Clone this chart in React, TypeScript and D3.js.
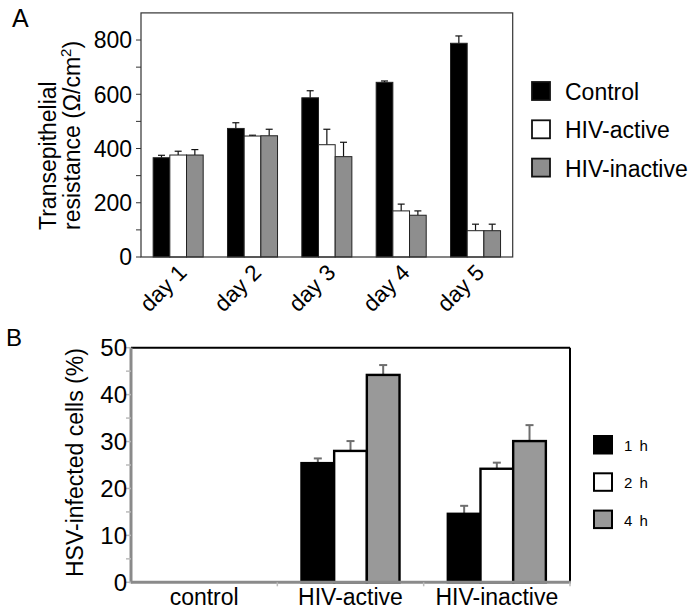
import { useRef, useEffect } from 'react';
import * as d3 from 'd3';

// Panel A data
const days = ['day 1', 'day 2', 'day 3', 'day 4', 'day 5'];
const seriesA = ['Control', 'HIV-active', 'HIV-inactive'];
const controlMean = [366, 474, 587, 644, 788];
const controlErr = [9, 21, 26, 5, 27];
const activeMean = [376, 446, 414, 170, 97];
const activeErr = [14, 3, 57, 25, 24];
const inactiveMean = [376, 447, 370, 154, 97];
const inactiveErr = [20, 24, 53, 16, 24];
const ticksA = [0, 200, 400, 600, 800];

// Panel B data
const groupsB = ['control', 'HIV-active', 'HIV-inactive'];
const seriesB = ['1 h', '2 h', '4 h'];
const h1Mean = [0, 25.4, 14.6];
const h1Err = [0, 1.0, 1.7];
const h2Mean = [0, 28.0, 24.2];
const h2Err = [0, 2.1, 1.3];
const h4Mean = [0, 44.2, 30.1];
const h4Err = [0, 2.1, 3.4];
const ticksB = [0, 10, 20, 30, 40, 50];

const FONT = "'Liberation Sans', Arial, Helvetica, sans-serif";

export default function App() {
  const svgRef = useRef(null);

  useEffect(() => {
    const svg = d3.select(svgRef.current);
    svg.selectAll('*').remove();
    svg.attr('font-family', FONT);

    // ---------- Panel A ----------
    const a = { left: 141, right: 512.7, top: 12.9, bottom: 257 };
    const yA = d3.scaleLinear().domain([0, 900]).range([a.bottom, a.top]);
    const xA = d3.scaleBand().domain(days).range([a.left, a.right]).paddingInner(0.327).paddingOuter(0.1635);
    const subA = d3.scaleBand().domain(seriesA).range([0, xA.bandwidth()]);
    const fillA = { Control: '#000', 'HIV-active': '#fff', 'HIV-inactive': '#8e8e8e' };
    const rowsA = days.flatMap((d, i) => [
      { day: d, s: 'Control', v: controlMean[i], e: controlErr[i] },
      { day: d, s: 'HIV-active', v: activeMean[i], e: activeErr[i] },
      { day: d, s: 'HIV-inactive', v: inactiveMean[i], e: inactiveErr[i] },
    ]);

    const gA = svg.append('g');
    // error bars (behind bars)
    gA.selectAll('.errA').data(rowsA).enter().append('g').each(function (d) {
      const cx = xA(d.day) + subA(d.s) + subA.bandwidth() / 2;
      const g = d3.select(this);
      g.append('line').attr('x1', cx).attr('x2', cx).attr('y1', yA(d.v)).attr('y2', yA(d.v + d.e))
        .attr('stroke', '#111').attr('stroke-width', 1.2);
      g.append('line').attr('x1', cx - 3.5).attr('x2', cx + 3.5).attr('y1', yA(d.v + d.e)).attr('y2', yA(d.v + d.e))
        .attr('stroke', '#111').attr('stroke-width', 1.2);
    });
    gA.selectAll('.barA').data(rowsA).enter().append('rect')
      .attr('x', (d) => xA(d.day) + subA(d.s))
      .attr('y', (d) => yA(d.v))
      .attr('width', subA.bandwidth())
      .attr('height', (d) => yA(0) - yA(d.v))
      .attr('fill', (d) => fillA[d.s])
      .attr('stroke', '#222')
      .attr('stroke-width', 1);

    gA.append('rect').attr('x', a.left).attr('y', a.top).attr('width', a.right - a.left).attr('height', a.bottom - a.top)
      .attr('fill', 'none').attr('stroke', '#333').attr('stroke-width', 1.2);

    // y ticks every 100
    gA.selectAll('.tkA').data(d3.range(0, 900, 100)).enter().append('line')
      .attr('x1', a.left - 5).attr('x2', a.left).attr('y1', (d) => yA(d)).attr('y2', (d) => yA(d))
      .attr('stroke', '#333').attr('stroke-width', 1);
    gA.selectAll('.tlA').data(ticksA).enter().append('text')
      .attr('x', a.left - 9).attr('y', (d) => yA(d)).attr('dy', '0.36em')
      .attr('text-anchor', 'end').attr('font-size', 23).text((d) => d);

    // x labels
    gA.selectAll('.xlA').data(days).enter().append('text')
      .attr('transform', (d) => `translate(${xA(d) + xA.bandwidth() / 2 + 10},${a.bottom + 17}) rotate(-45)`)
      .attr('text-anchor', 'end').attr('font-size', 22.5).text((d) => d);

    // y title
    const tA = gA.append('text').attr('transform', 'translate(56,230) rotate(-90)').attr('font-size', 23);
    tA.append('tspan').attr('x', 0).attr('y', 0).text('Transepithelial');
    const l2 = gA.append('text').attr('transform', 'translate(79.5,230) rotate(-90)').attr('font-size', 23);
    l2.append('tspan').text('resistance (Ω/cm');
    l2.append('tspan').attr('font-size', 15).attr('dy', -9).text('2');
    l2.append('tspan').attr('dy', 9).text(')');

    // legend A
    seriesA.forEach((s, i) => {
      const y = 82 + i * 38.3;
      gA.append('rect').attr('x', 532).attr('y', y).attr('width', 18).attr('height', 18)
        .attr('fill', fillA[s]).attr('stroke', '#111').attr('stroke-width', 1.8);
      gA.append('text').attr('x', 565).attr('y', y + 18).attr('font-size', 23).text(s);
    });

    svg.append('text').attr('x', 12).attr('y', 27).attr('font-size', 25).text('A');

    // ---------- Panel B ----------
    const b = { left: 131, right: 570, top: 347.7, bottom: 582.3 };
    const yB = d3.scaleLinear().domain([0, 50]).range([b.bottom, b.top]);
    const xB = d3.scaleBand().domain(groupsB).range([b.left, b.right]).paddingInner(0.33).paddingOuter(0.165);
    const subB = d3.scaleBand().domain(seriesB).range([0, xB.bandwidth()]);
    const fillB = { '1 h': '#000', '2 h': '#fff', '4 h': '#999' };
    const rowsB = groupsB.flatMap((g, i) => [
      { g, s: '1 h', v: h1Mean[i], e: h1Err[i] },
      { g, s: '2 h', v: h2Mean[i], e: h2Err[i] },
      { g, s: '4 h', v: h4Mean[i], e: h4Err[i] },
    ]).filter((d) => d.v > 0);

    const gB = svg.append('g');
    gB.selectAll('.errB').data(rowsB).enter().append('g').each(function (d) {
      const cx = xB(d.g) + subB(d.s) + subB.bandwidth() / 2;
      const g = d3.select(this);
      g.append('line').attr('x1', cx).attr('x2', cx).attr('y1', yB(d.v)).attr('y2', yB(d.v + d.e))
        .attr('stroke', '#6e6e6e').attr('stroke-width', 2);
      g.append('line').attr('x1', cx - 4).attr('x2', cx + 4).attr('y1', yB(d.v + d.e)).attr('y2', yB(d.v + d.e))
        .attr('stroke', '#6e6e6e').attr('stroke-width', 2);
    });
    gB.selectAll('.barB').data(rowsB).enter().append('rect')
      .attr('x', (d) => xB(d.g) + subB(d.s))
      .attr('y', (d) => yB(d.v))
      .attr('width', subB.bandwidth())
      .attr('height', (d) => yB(0) - yB(d.v))
      .attr('fill', (d) => fillB[d.s])
      .attr('stroke', '#000')
      .attr('stroke-width', 2.4);

    // frame: top/right black, left/bottom gray
    gB.append('line').attr('x1', b.left).attr('x2', b.right).attr('y1', b.top).attr('y2', b.top).attr('stroke', '#000').attr('stroke-width', 2);
    gB.append('line').attr('x1', b.right).attr('x2', b.right).attr('y1', b.top).attr('y2', b.bottom).attr('stroke', '#000').attr('stroke-width', 2);
    gB.append('line').attr('x1', b.left).attr('x2', b.left).attr('y1', b.top).attr('y2', b.bottom + 1).attr('stroke', '#8a8a8a').attr('stroke-width', 3);
    gB.append('line').attr('x1', b.left).attr('x2', b.right + 1).attr('y1', b.bottom).attr('y2', b.bottom).attr('stroke', '#8a8a8a').attr('stroke-width', 3);

    gB.selectAll('.tkB').data(d3.range(0, 51, 5)).enter().append('line')
      .attr('x1', b.left - 5).attr('x2', b.left).attr('y1', (d) => yB(d)).attr('y2', (d) => yB(d))
      .attr('stroke', '#bbb').attr('stroke-width', 1.5);
    gB.selectAll('.tlB').data(ticksB).enter().append('text')
      .attr('x', b.left - 4).attr('y', (d) => yB(d)).attr('dy', '0.36em')
      .attr('text-anchor', 'end').attr('font-size', 24).text((d) => d);

    // category boundary ticks
    gB.selectAll('.ctB').data(groupsB.slice(1).map((g) => xB(g) - (xB.step() - xB.bandwidth()) / 2).concat([b.right])).enter().append('line')
      .attr('x1', (d) => d).attr('x2', (d) => d).attr('y1', b.bottom).attr('y2', b.bottom + 4)
      .attr('stroke', '#bbb').attr('stroke-width', 1.5);
    gB.selectAll('.xlB').data(groupsB).enter().append('text')
      .attr('x', (d) => xB(d) + xB.bandwidth() / 2).attr('y', 605)
      .attr('text-anchor', 'middle').attr('font-size', 23).text((d) => d);

    gB.append('text').attr('transform', 'translate(83,577) rotate(-90)').attr('font-size', 23).text('HSV-infected cells (%)');

    // legend B
    seriesB.forEach((s, i) => {
      const y = 436 + i * 37.3;
      gB.append('rect').attr('x', 594).attr('y', y).attr('width', 18).attr('height', 17.5)
        .attr('fill', fillB[s]).attr('stroke', '#000').attr('stroke-width', 2);
      gB.append('text').attr('x', 624).attr('y', y + 15).attr('font-size', 15).attr('letter-spacing', 1.5).text(s);
    });

    svg.append('text').attr('x', 6).attr('y', 346).attr('font-size', 24).text('B');
  }, []);

  return (
    <svg ref={svgRef} width={697} height={615} style={{ position: 'absolute', left: 0, top: 0, background: '#fff' }} />
  );
}
